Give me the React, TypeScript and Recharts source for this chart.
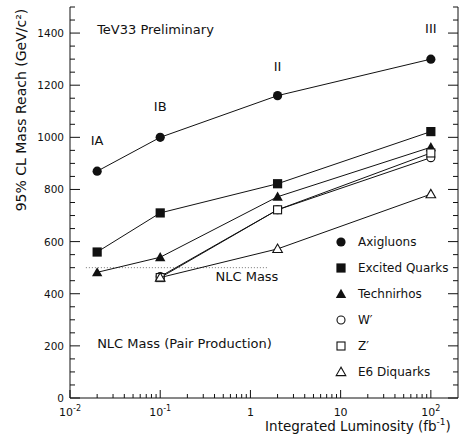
import React from "react";
import {
  ComposedChart,
  Scatter,
  XAxis,
  YAxis,
  ReferenceLine,
  ReferenceDot,
  Legend,
} from "recharts";

// luminosity points (fb^-1) for each run
const lumiAll = [0.02, 0.1, 2, 100];
const lumiLate = [0.1, 2, 100];

const axigluons = [870, 1000, 1160, 1300];
const excitedQuarks = [560, 710, 822, 1022];
const technirhos = [482, 540, 772, 962];
const wPrime = [466, 722, 922];
const zPrime = [462, 722, 940];
const e6Diquarks = [462, 572, 782];

const runLabels = ["IA", "IB", "II", "III"];
const runLabelY = [983, 1113, 1267, 1413];

const xTicks = [
  0.01, 0.02, 0.03, 0.04, 0.05, 0.06, 0.07, 0.08, 0.09,
  0.1, 0.2, 0.3, 0.4, 0.5, 0.6, 0.7, 0.8, 0.9,
  1, 2, 3, 4, 5, 6, 7, 8, 9,
  10, 20, 30, 40, 50, 60, 70, 80, 90,
  100,
];
const yTicks = Array.from({ length: 31 }, (_, i) => i * 50);

const FONT = "'DejaVu Sans', sans-serif";
const INK = "#111";

const toPoints = (xs: number[], ys: number[]) => xs.map((x, i) => ({ x, y: ys[i] }));

type Kind = "circle" | "square" | "triangle" | "ocircle" | "osquare" | "otriangle";

function Marker({ cx, cy, kind }: { cx: number; cy: number; kind: Kind }) {
  const filled = !kind.startsWith("o");
  const fill = filled ? INK : "#fff";
  const sw = filled ? 0 : 1.1;
  if (kind === "circle" || kind === "ocircle")
    return <circle cx={cx} cy={cy} r={filled ? 4.6 : 4} fill={fill} stroke={INK} strokeWidth={sw} />;
  if (kind === "square" || kind === "osquare") {
    const h = filled ? 4.6 : 4;
    return <rect x={cx - h} y={cy - h} width={h * 2} height={h * 2} fill={fill} stroke={INK} strokeWidth={sw} />;
  }
  const s = filled ? 5.2 : 4.8;
  return (
    <polygon
      points={`${cx},${cy - s} ${cx - s},${cy + s * 0.75} ${cx + s},${cy + s * 0.75}`}
      fill={fill}
      stroke={INK}
      strokeWidth={sw}
    />
  );
}

const series: { name: string; kind: Kind; data: { x: number; y: number }[] }[] = [
  { name: "Axigluons", kind: "circle", data: toPoints(lumiAll, axigluons) },
  { name: "Excited Quarks", kind: "square", data: toPoints(lumiAll, excitedQuarks) },
  { name: "Technirhos", kind: "triangle", data: toPoints(lumiAll, technirhos) },
  { name: "W\u2032", kind: "ocircle", data: toPoints(lumiLate, wPrime) },
  { name: "Z\u2032", kind: "osquare", data: toPoints(lumiLate, zPrime) },
  { name: "E6 Diquarks", kind: "otriangle", data: toPoints(lumiLate, e6Diquarks) },
];

const isDecade = (v: number) => Math.abs(Math.log10(v) - Math.round(Math.log10(v))) < 1e-6;

function BottomTick(props: any) {
  const { x, y, payload } = props;
  const v = payload.value;
  const major = isDecade(v);
  const exp = Math.round(Math.log10(v));
  return (
    <g>
      <line x1={x} y1={y} x2={x} y2={y - (major ? 8 : 4)} stroke={INK} strokeWidth={1} />
      {major &&
        (exp === 0 || exp === 1 ? (
          <text x={x} y={y + 18} textAnchor="middle" fontSize={11} fontFamily={FONT} fill={INK}>
            {exp === 0 ? "1" : "10"}
          </text>
        ) : (
          <text x={x} y={y + 18} textAnchor="middle" fontSize={11} fontFamily={FONT} fill={INK}>
            10
            <tspan dy={-5} fontSize={8}>{exp}</tspan>
          </text>
        ))}
    </g>
  );
}

function TopTick(props: any) {
  const { x, y, payload } = props;
  const major = isDecade(payload.value);
  return <line x1={x} y1={y} x2={x} y2={y + (major ? 8 : 4)} stroke={INK} strokeWidth={1} />;
}

function LeftTick(props: any) {
  const { x, y, payload } = props;
  const v = payload.value;
  const major = v % 200 === 0;
  return (
    <g>
      <line x1={x} y1={y} x2={x + (major ? 10 : 5)} y2={y} stroke={INK} strokeWidth={1} />
      {major && (
        <text x={x - 6} y={y + 4} textAnchor="end" fontSize={10.5} fontFamily={FONT} fill={INK}>
          {v}
        </text>
      )}
    </g>
  );
}

function RightTick(props: any) {
  const { x, y, payload } = props;
  const major = payload.value % 200 === 0;
  return <line x1={x} y1={y} x2={x - (major ? 10 : 5)} y2={y} stroke={INK} strokeWidth={1} />;
}

function LegendBox() {
  return (
    <div style={{ fontFamily: FONT, fontSize: 12, color: INK }}>
      {series.map((s) => (
        <div key={s.name} style={{ display: "flex", alignItems: "center", height: 26 }}>
          <svg width={18} height={14} style={{ marginRight: 7 }}>
            <Marker cx={8} cy={7} kind={s.kind} />
          </svg>
          <span>{s.name}</span>
        </div>
      ))}
    </div>
  );
}

const textAt = (label: string, anchor: "start" | "middle", size = 13) => (p: any) => (
  <text
    x={p.cx}
    y={p.cy}
    textAnchor={anchor}
    dominantBaseline="middle"
    fontSize={size}
    fontFamily={FONT}
    fill={INK}
  >
    {label}
  </text>
);

export default function App() {
  return (
    <div style={{ position: "absolute", left: 0, top: 0, width: 461, height: 436, background: "#fff" }}>
      <ComposedChart width={461} height={436} margin={{ top: 7, right: 0, bottom: 0, left: 0 }}>
        <XAxis
          xAxisId="b"
          dataKey="x"
          type="number"
          scale="log"
          domain={[0.01, 200]}
          allowDataOverflow
          ticks={xTicks}
          interval={0}
          height={38}
          tickSize={0}
          tickMargin={0}
          tickLine={false}
          stroke={INK}
          tick={<BottomTick />}
          label={{
            content: () => (
              <text x={358} y={431} textAnchor="middle" fontSize={13.5} fontFamily={FONT} fill={INK}>
                Integrated Luminosity (fb
                <tspan dy={-6} fontSize={9}>-1</tspan>
                <tspan dy={6}>)</tspan>
              </text>
            ),
          }}
        />
        <XAxis
          xAxisId="t"
          orientation="top"
          dataKey="x"
          type="number"
          scale="log"
          domain={[0.01, 200]}
          allowDataOverflow
          ticks={xTicks}
          interval={0}
          height={0}
          tickSize={0}
          tickMargin={0}
          tickLine={false}
          stroke={INK}
          tick={<TopTick />}
        />
        <YAxis
          yAxisId="l"
          dataKey="y"
          type="number"
          domain={[0, 1500]}
          allowDataOverflow
          ticks={yTicks}
          interval={0}
          width={70}
          tickSize={0}
          tickMargin={0}
          tickLine={false}
          stroke={INK}
          tick={<LeftTick />}
          label={{
            content: () => (
              <text
                x={22}
                y={110}
                transform="rotate(-90 22 110)"
                textAnchor="middle"
                dominantBaseline="middle"
                fontSize={14}
                fontFamily={FONT}
                fill={INK}
              >
                95% CL Mass Reach (GeV/c²)
              </text>
            ),
          }}
        />
        <YAxis
          yAxisId="r"
          orientation="right"
          type="number"
          domain={[0, 1500]}
          allowDataOverflow
          ticks={yTicks}
          interval={0}
          width={3}
          tickSize={0}
          tickMargin={0}
          tickLine={false}
          stroke={INK}
          tick={<RightTick />}
        />

        <ReferenceLine
          xAxisId="b"
          yAxisId="l"
          segment={[
            { x: 0.015, y: 500 },
            { x: 1.6, y: 500 },
          ]}
          stroke="#777"
          strokeDasharray="1 2"
        />

        {series.map((s) => (
          <Scatter
            key={s.name}
            name={s.name}
            xAxisId="b"
            yAxisId="l"
            data={s.data}
            line={{ stroke: INK, strokeWidth: 1 }}
            lineType="joint"
            isAnimationActive={false}
            shape={(p: any) => <Marker cx={p.cx} cy={p.cy} kind={s.kind} />}
          />
        ))}

        {runLabels.map((lab, i) => (
          <ReferenceDot
            key={lab}
            xAxisId="b"
            yAxisId="l"
            x={lumiAll[i]}
            y={runLabelY[i]}
            shape={textAt(lab, "middle", 13)}
          />
        ))}
        <ReferenceDot xAxisId="b" yAxisId="l" x={0.02} y={1410} shape={textAt("TeV33 Preliminary", "start", 13)} />
        <ReferenceDot xAxisId="b" yAxisId="l" x={0.41} y={461} shape={textAt("NLC Mass", "start", 13)} />
        <ReferenceDot
          xAxisId="b"
          yAxisId="l"
          x={0.02}
          y={207}
          shape={textAt("NLC Mass (Pair Production)", "start", 13)}
        />

        <Legend
          layout="vertical"
          align="center"
          verticalAlign="middle"
          content={() => <LegendBox />}
          wrapperStyle={{ position: "absolute", left: 333, top: 229, width: 128 }}
        />
      </ComposedChart>
    </div>
  );
}
